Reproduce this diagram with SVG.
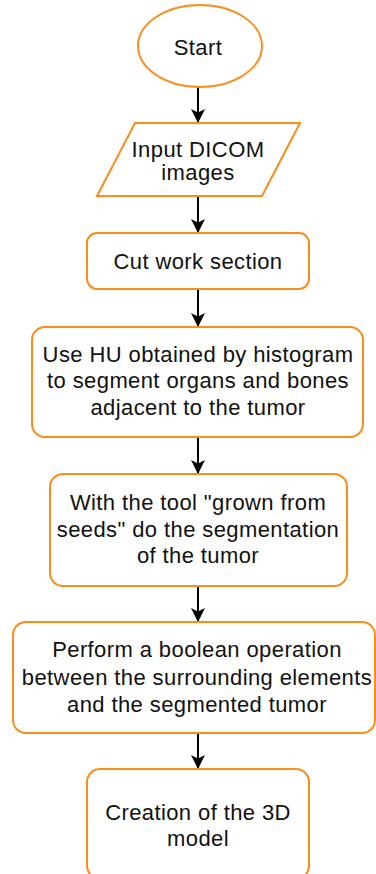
<svg xmlns="http://www.w3.org/2000/svg" width="376" height="874" viewBox="0 0 376 874">
<style>
.n{fill:#fff;stroke:#FF8C1A;stroke-width:2}
.t{font-family:"Liberation Sans",Arial,sans-serif;font-size:22px;fill:#111;text-anchor:middle;letter-spacing:0.4px}
.c{stroke:#000;stroke-width:2;fill:none;marker-end:url(#ah)}
</style>
<defs>
<marker id="ah" markerUnits="userSpaceOnUse" markerWidth="15" markerHeight="15" viewBox="0 0 15 15" refX="14" refY="7.5" orient="auto">
<path d="M0,0.5 L14,7.5 L0,14.5 L3.5,7.5 Z" fill="#000"/>
</marker>
</defs>
<rect width="376" height="874" fill="#fff"/>
<g id="connectors">
<line class="c" x1="198" y1="86" x2="198" y2="123"/>
<line class="c" x1="198" y1="196" x2="198" y2="233"/>
<line class="c" x1="198" y1="289" x2="198" y2="327"/>
<line class="c" x1="198" y1="437" x2="198" y2="474"/>
<line class="c" x1="198" y1="586" x2="198" y2="622"/>
<line class="c" x1="198" y1="733" x2="198" y2="769"/>
</g>
<g id="start">
<ellipse class="n" cx="200" cy="46" rx="62" ry="41"/>
<text class="t" x="198" y="55">Start</text>
</g>
<g id="input">
<polygon class="n" points="135,123 300,123 262,196 97,196"/>
<text class="t" x="198" y="157">Input DICOM</text>
<text class="t" x="198" y="180">images</text>
</g>
<g id="cut">
<rect class="n" x="87" y="233" width="222" height="56" rx="10"/>
<text class="t" x="198" y="269">Cut work section</text>
</g>
<g id="segment-organs">
<rect class="n" x="32" y="327" width="331" height="110" rx="13"/>
<text class="t" x="198" y="362">Use HU obtained by histogram</text>
<text class="t" x="198" y="388">to segment organs and bones</text>
<text class="t" x="198" y="415">adjacent to the tumor</text>
</g>
<g id="segment-tumor">
<rect class="n" x="50" y="474" width="297" height="112" rx="13"/>
<text class="t" x="198" y="510">With the tool "grown from</text>
<text class="t" x="198" y="537">seeds" do the segmentation</text>
<text class="t" x="198" y="563">of the tumor</text>
</g>
<g id="boolean">
<rect class="n" x="13" y="622" width="362" height="111" rx="13"/>
<text class="t" x="197" y="657">Perform a boolean operation</text>
<text class="t" x="197" y="685">between the surrounding elements</text>
<text class="t" x="197" y="712">and the segmented tumor</text>
</g>
<g id="model">
<rect class="n" x="87" y="769" width="222" height="110" rx="13"/>
<text class="t" x="198" y="820">Creation of the 3D</text>
<text class="t" x="198" y="846">model</text>
</g>
</svg>
